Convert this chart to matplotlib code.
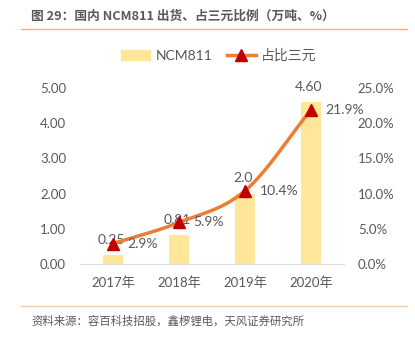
import numpy as np
import matplotlib
matplotlib.use("Agg")
import matplotlib.pyplot as plt
from matplotlib.lines import Line2D
from matplotlib.patches import Patch

plt.rcParams['font.family'] = ['Lato', 'Noto Sans CJK SC', 'DejaVu Sans']

years = ["2017年", "2018年", "2019年", "2020年"]
ncm811 = [0.25, 0.81, 2.0, 4.60]
ncm811_labels = ["0.25", "0.81", "2.0", "4.60"]
share = [2.9, 5.9, 10.4, 21.9]
share_labels = ["2.9%", "5.9%", "10.4%", "21.9%"]

left_ticks = [0, 1, 2, 3, 4, 5]
right_ticks = [0, 5, 10, 15, 20, 25]

GRAY = "#595959"
BAR = "#FFE699"
LINE = "#ED7D31"
MARK = "#C00000"
CJK = ['Noto Sans CJK SC', 'DejaVu Sans']


def smooth(xs, ys, n=30):
    # catmull-rom, like excel's smoothed line
    xs = np.asarray(xs, float)
    ys = np.asarray(ys, float)
    px = np.concatenate([[2 * xs[0] - xs[1]], xs, [2 * xs[-1] - xs[-2]]])
    py = np.concatenate([[2 * ys[0] - ys[1]], ys, [2 * ys[-1] - ys[-2]]])
    out_x, out_y = [], []
    for i in range(1, len(px) - 2):
        t = np.linspace(0, 1, n)
        for p, out in ((px, out_x), (py, out_y)):
            p0, p1, p2, p3 = p[i - 1], p[i], p[i + 1], p[i + 2]
            out.extend(0.5 * (2 * p1 + (-p0 + p2) * t
                              + (2 * p0 - 5 * p1 + 4 * p2 - p3) * t ** 2
                              + (-p0 + 3 * p1 - 3 * p2 + p3) * t ** 3))
    return out_x, out_y


fig = plt.figure(figsize=(4.15, 3.37), dpi=100)
ax = fig.add_axes([80 / 415, 1 - 264 / 337, 264 / 415, 176 / 337])
ax2 = ax.twinx()

x = np.arange(len(years))
ax.bar(x, ncm811, width=0.30, color=BAR, zorder=1)
for xi, v, lab in zip(x, ncm811, ncm811_labels):
    ax.text(xi - 0.03, v + 0.43, lab, ha="center", va="center", fontsize=10, color=GRAY)

ax.set_xlim(-0.5, 3.5)
ax.set_ylim(0, 5)
ax.set_yticks(left_ticks)
ax.set_yticklabels([f"{t:.2f}" for t in left_ticks])
ax.set_xticks(x)
ax.set_xticklabels(years)
ax.tick_params(axis="both", length=0, labelsize=9.5, labelcolor=GRAY)
ax.tick_params(axis="y", pad=10)
ax.tick_params(axis="x", pad=9)
for s in ["top", "right", "left"]:
    ax.spines[s].set_visible(False)
ax.spines["bottom"].set_color("#D9D9D9")

sx, sy = smooth(x, share)
ax2.plot(sx, sy, color=LINE, lw=2.5, zorder=3)
ax2.plot(x, share, ls="none", marker="^", ms=9, color=MARK, zorder=4)
for xi, v, lab in zip(x, share, share_labels):
    ax2.text(xi + 0.22, v, lab, ha="left", va="center", fontsize=10, color=GRAY)
ax2.set_ylim(0, 25)
ax2.set_yticks(right_ticks)
ax2.set_yticklabels([f"{t:.1f}%" for t in right_ticks])
ax2.tick_params(axis="y", length=0, labelsize=9.5, labelcolor=GRAY, pad=10)
for s in ["top", "right", "left", "bottom"]:
    ax2.spines[s].set_visible(False)

handles = [Patch(color=BAR),
           Line2D([], [], color=LINE, lw=2.5, marker="^", ms=9,
                  markerfacecolor=MARK, markeredgecolor=MARK)]
fig.legend(handles, ["NCM811", "占比三元"], loc="center", bbox_to_anchor=(219 / 415, 1 - 55 / 337),
           ncol=2, frameon=False, fontsize=10, labelcolor=GRAY, handlelength=2.1,
           columnspacing=1.0, handletextpad=0.4)

fig.text(31 / 415, 1 - 16 / 337, "图 29：国内 NCM811 出货、占三元比例（万吨、%）",
         fontsize=9.2, fontweight="bold", color=GRAY, va="center", ha="left", family=CJK)
fig.add_artist(Line2D([21 / 415, 407 / 415], [1 - 29 / 337] * 2, color="#F4B183", lw=1))
fig.add_artist(Line2D([21 / 415, 407 / 415], [1 - 306 / 337] * 2, color="#F8CBAD", lw=1))
fig.text(31 / 415, 1 - 321 / 337, "资料来源：容百科技招股，鑫椤锂电，天风证券研究所",
         fontsize=8.2, color=GRAY, va="center", ha="left", family=CJK)

fig.savefig("out.png", dpi=100)
